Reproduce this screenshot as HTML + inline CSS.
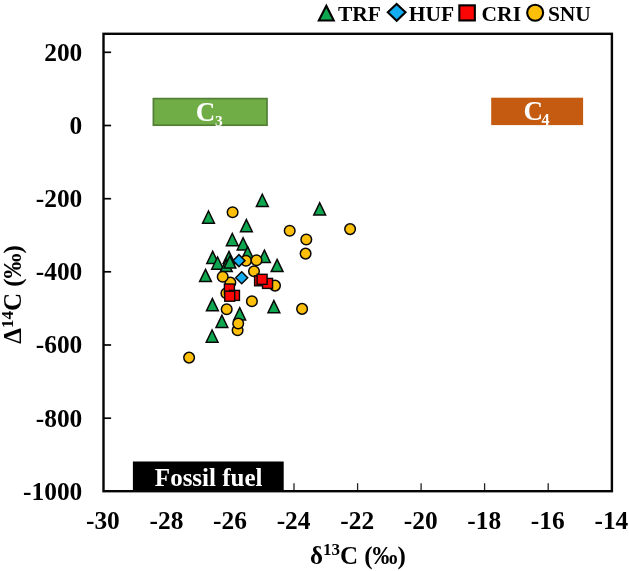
<!DOCTYPE html>
<html><head><meta charset="utf-8"><title>chart</title>
<style>
html,body{margin:0;padding:0;background:#fff;}
body{width:629px;height:571px;overflow:hidden;font-family:"Liberation Serif",serif;}
svg{display:block;position:absolute;left:0;top:0;filter:blur(0.35px);}
text{font-family:"Liberation Serif",serif;font-weight:bold;fill:#000;}
.ax{font-size:25.4px;}
.lg{font-size:21.5px;}
.t{fill:#0ea74f;stroke:#080808;stroke-width:1.5;stroke-linejoin:miter;}
.c{fill:#fdbf07;stroke:#080808;stroke-width:1.5;}
.d{fill:#12adf0;stroke:#080808;stroke-width:1.5;}
.s{fill:#fb0505;stroke:#080808;stroke-width:1.4;}
.tk{stroke:#050505;stroke-width:1.7;}
</style></head><body>
<svg width="629" height="571" viewBox="0 0 629 571">
<rect x="0" y="0" width="629" height="571" fill="#fff"/>
<line x1="166.9" y1="491.2" x2="166.9" y2="483.2" class="tk" style="stroke-width:1.3;stroke:#222"/>
<line x1="230.4" y1="491.2" x2="230.4" y2="483.2" class="tk" style="stroke-width:1.3;stroke:#222"/>
<line x1="294.0" y1="491.2" x2="294.0" y2="483.2" class="tk" style="stroke-width:1.3;stroke:#222"/>
<line x1="357.6" y1="491.2" x2="357.6" y2="483.2" class="tk" style="stroke-width:1.3;stroke:#222"/>
<line x1="421.1" y1="491.2" x2="421.1" y2="483.2" class="tk" style="stroke-width:1.3;stroke:#222"/>
<line x1="484.6" y1="491.2" x2="484.6" y2="483.2" class="tk" style="stroke-width:1.3;stroke:#222"/>
<line x1="548.2" y1="491.2" x2="548.2" y2="483.2" class="tk" style="stroke-width:1.3;stroke:#222"/>
<line x1="103.5" y1="52.3" x2="111.1" y2="52.3" class="tk"/>
<line x1="103.5" y1="125.5" x2="111.1" y2="125.5" class="tk"/>
<line x1="103.5" y1="198.7" x2="111.1" y2="198.7" class="tk"/>
<line x1="103.5" y1="271.8" x2="111.1" y2="271.8" class="tk"/>
<line x1="103.5" y1="345.0" x2="111.1" y2="345.0" class="tk"/>
<line x1="103.5" y1="418.2" x2="111.1" y2="418.2" class="tk"/>
<!-- category boxes -->
<rect x="153.4" y="98.6" width="113.6" height="26.6" fill="#70ad47" stroke="#537f35" stroke-width="1.7"/>
<text x="195.8" y="121" style="font-size:27px;fill:#fff">C</text>
<text x="215" y="126.2" style="font-size:15.5px;fill:#fff">3</text>
<rect x="491.2" y="97.7" width="91.9" height="27.4" fill="#c55a11"/>
<text x="523.4" y="120.2" style="font-size:27px;fill:#fff">C</text>
<text x="541.6" y="125.3" style="font-size:16px;fill:#fff">4</text>
<rect x="132.9" y="461.5" width="150.8" height="30.5" fill="#000"/>
<text x="208.7" y="485.8" text-anchor="middle" style="font-size:25px;fill:#fff">Fossil fuel</text>
<!-- plot frame -->
<rect x="103.5" y="33.8" width="508.4" height="457.4" fill="none" stroke="#050505" stroke-width="2.4"/>
<text x="102.9" y="528.6" text-anchor="middle" class="ax">-30</text>
<text x="166.5" y="528.6" text-anchor="middle" class="ax">-28</text>
<text x="230.0" y="528.6" text-anchor="middle" class="ax">-26</text>
<text x="293.6" y="528.6" text-anchor="middle" class="ax">-24</text>
<text x="357.2" y="528.6" text-anchor="middle" class="ax">-22</text>
<text x="420.7" y="528.6" text-anchor="middle" class="ax">-20</text>
<text x="484.2" y="528.6" text-anchor="middle" class="ax">-18</text>
<text x="547.8" y="528.6" text-anchor="middle" class="ax">-16</text>
<text x="611.4" y="528.6" text-anchor="middle" class="ax">-14</text>
<text x="82.3" y="60.7" text-anchor="end" class="ax">200</text>
<text x="82.3" y="133.9" text-anchor="end" class="ax">0</text>
<text x="82.3" y="207.1" text-anchor="end" class="ax">-200</text>
<text x="82.3" y="280.2" text-anchor="end" class="ax">-400</text>
<text x="82.3" y="353.4" text-anchor="end" class="ax">-600</text>
<text x="82.3" y="426.6" text-anchor="end" class="ax">-800</text>
<text x="82.3" y="499.8" text-anchor="end" class="ax">-1000</text>
<!-- axis titles -->
<text x="310" y="563.7" class="ax" style="font-size:25px">δ<tspan dy="-8.5" style="font-size:17px">13</tspan><tspan dy="8.5">C (‰)</tspan></text>
<text transform="translate(21.1,343.7) rotate(-90)" class="ax" style="font-size:25px">Δ<tspan dy="-8.5" style="font-size:17px">14</tspan><tspan dy="8.5">C (‰)</tspan></text>
<!-- legend -->
<path d="M326.3 5.8L333.75 20.45H318.85Z" class="t" style="stroke-width:2.1;stroke:#000"/>
<text x="338" y="20.9" class="lg">TRF</text>
<path d="M396.65 3.9L405.5 12.35L396.65 20.8L387.8 12.35Z" class="d" style="stroke-width:2.1;stroke:#000"/>
<text x="408.8" y="20.9" class="lg">HUF</text>
<rect x="459.35" y="5.35" width="15.5" height="15.1" class="s" style="stroke-width:2.1;stroke:#000"/>
<text x="481.6" y="20.9" class="lg">CRI</text>
<circle cx="535.15" cy="12.75" r="8.0" class="c" style="stroke-width:2.1;stroke:#000"/>
<text x="547.9" y="21.2" class="lg">SNU</text>
<!-- data -->
<path d="M262.30 194.28L268.20 206.49H256.40Z" class="t"/>
<path d="M208.50 210.98L214.40 223.19H202.60Z" class="t"/>
<path d="M246.40 219.58L252.30 231.78H240.50Z" class="t"/>
<path d="M232.30 233.53L238.20 245.74H226.40Z" class="t"/>
<path d="M243.10 237.78L249.00 249.99H237.20Z" class="t"/>
<path d="M247.60 246.69L253.50 258.88H241.70Z" class="t"/>
<path d="M212.70 251.33L218.60 263.53H206.80Z" class="t"/>
<path d="M217.60 257.03L223.50 269.23H211.70Z" class="t"/>
<path d="M229.00 251.38L234.90 263.58H223.10Z" class="t"/>
<path d="M226.30 259.39L232.20 271.58H220.40Z" class="t"/>
<path d="M229.90 255.88L235.80 268.08H224.00Z" class="t"/>
<path d="M264.40 250.19L270.30 262.38H258.50Z" class="t"/>
<path d="M277.10 259.39L283.00 271.58H271.20Z" class="t"/>
<path d="M205.50 269.39L211.40 281.58H199.60Z" class="t"/>
<path d="M212.40 298.59L218.30 310.78H206.50Z" class="t"/>
<path d="M239.70 307.69L245.60 319.88H233.80Z" class="t"/>
<path d="M221.90 315.29L227.80 327.48H216.00Z" class="t"/>
<path d="M212.10 329.99L218.00 342.19H206.20Z" class="t"/>
<path d="M273.90 300.59L279.80 312.78H268.00Z" class="t"/>
<path d="M319.70 202.83L325.60 215.03H313.80Z" class="t"/>
<circle cx="232.60" cy="212.30" r="5.3" class="c"/>
<circle cx="289.70" cy="230.70" r="5.3" class="c"/>
<circle cx="306.30" cy="239.50" r="5.3" class="c"/>
<circle cx="305.60" cy="253.60" r="5.3" class="c"/>
<circle cx="350.10" cy="229.10" r="5.3" class="c"/>
<circle cx="246.00" cy="260.70" r="5.3" class="c"/>
<circle cx="256.50" cy="260.20" r="5.3" class="c"/>
<circle cx="254.00" cy="271.30" r="5.3" class="c"/>
<circle cx="230.40" cy="282.60" r="5.3" class="c"/>
<circle cx="222.70" cy="276.70" r="5.3" class="c"/>
<circle cx="275.00" cy="285.60" r="5.3" class="c"/>
<circle cx="226.40" cy="293.30" r="5.3" class="c"/>
<circle cx="251.90" cy="301.20" r="5.3" class="c"/>
<circle cx="226.70" cy="309.30" r="5.3" class="c"/>
<circle cx="237.60" cy="330.30" r="5.3" class="c"/>
<circle cx="238.20" cy="323.50" r="5.3" class="c"/>
<circle cx="302.10" cy="308.90" r="5.3" class="c"/>
<circle cx="189.10" cy="357.60" r="5.3" class="c"/>
<path d="M238.95 254.65L244.95 260.65L238.95 266.65L232.95 260.65Z" class="d"/>
<path d="M241.70 271.80L247.70 277.80L241.70 283.80L235.70 277.80Z" class="d"/>
<rect x="224.40" y="284.00" width="10.0" height="10.0" class="s"/>
<rect x="229.45" y="290.40" width="10.0" height="10.0" class="s"/>
<rect x="224.70" y="291.20" width="10.0" height="10.0" class="s"/>
<rect x="254.60" y="275.80" width="10.0" height="10.0" class="s"/>
<rect x="262.55" y="278.40" width="10.0" height="10.0" class="s"/>
<rect x="257.10" y="274.30" width="10.0" height="10.0" class="s"/>
</svg>
</body></html>
